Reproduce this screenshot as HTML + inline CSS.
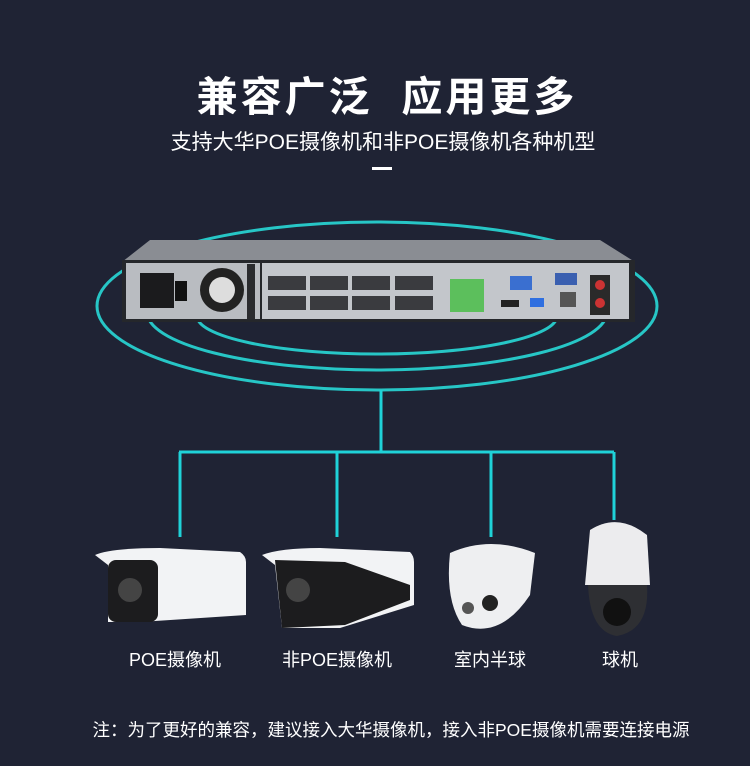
<!DOCTYPE html>
<html><head><meta charset="utf-8"><style>
html,body{margin:0;padding:0}
body{width:750px;height:766px;background:#1f2334;position:relative;overflow:hidden;font-family:"Liberation Sans","Noto Sans CJK SC",sans-serif;color:#fff}
.t{position:absolute;left:0;width:750px;text-align:center;white-space:nowrap}
</style></head><body>
<div class="t" style="top:63px;left:12px;font-size:41px;font-weight:bold;letter-spacing:3px">兼容广泛&nbsp;&nbsp;应用更多</div>
<div class="t" style="top:126px;left:8px;font-size:21px">支持大华POE摄像机和非POE摄像机各种机型</div>
<div style="position:absolute;left:372px;top:167px;width:20px;height:3px;background:#fff"></div>
<svg width="750" height="766" style="position:absolute;left:0;top:0">
<g fill="none" stroke="#27c6c6" stroke-width="3">
<ellipse cx="377" cy="306" rx="280" ry="84"/>
<ellipse cx="377" cy="312" rx="230" ry="58"/>
<ellipse cx="377" cy="316" rx="180" ry="38"/>
</g>
<g stroke="#1fd2d8" stroke-width="3" fill="none">
<line x1="381" y1="390" x2="381" y2="452"/>
<line x1="179" y1="452" x2="614" y2="452"/>
<line x1="180" y1="452" x2="180" y2="537"/>
<line x1="337" y1="452" x2="337" y2="537"/>
<line x1="491" y1="452" x2="491" y2="537"/>
<line x1="614" y1="452" x2="614" y2="520"/>
</g>
<polygon points="150,240 600,240 635,262 122,262" fill="#8a8d93"/>
<rect x="122" y="260" width="513" height="62" fill="#25272b"/>
<rect x="126" y="263" width="134" height="56" fill="#b9bcc1"/>
<rect x="262" y="263" width="367" height="56" fill="#c3c6cb"/>
<rect x="140" y="273" width="34" height="35" fill="#1b1b1d"/>
<rect x="175" y="281" width="12" height="20" fill="#111"/>
<circle cx="222" cy="290" r="22" fill="#222"/>
<circle cx="222" cy="290" r="13" fill="#ddd"/>
<rect x="247" y="264" width="8" height="55" fill="#2a2b2e"/>
<g fill="#3a3b3f">
<rect x="268" y="276" width="38" height="14"/><rect x="268" y="296" width="38" height="14"/>
<rect x="310" y="276" width="38" height="14"/><rect x="310" y="296" width="38" height="14"/>
<rect x="352" y="276" width="38" height="14"/><rect x="352" y="296" width="38" height="14"/>
<rect x="395" y="276" width="38" height="14"/><rect x="395" y="296" width="38" height="14"/>
</g>
<rect x="450" y="279" width="34" height="33" fill="#5cbf5c"/>
<rect x="510" y="276" width="22" height="14" fill="#3a6fd0"/>
<rect x="555" y="273" width="22" height="12" fill="#3a5fb0"/>
<rect x="501" y="300" width="18" height="7" fill="#222"/>
<rect x="530" y="298" width="14" height="9" fill="#2f6fe0"/>
<rect x="560" y="292" width="16" height="15" fill="#555"/>
<rect x="590" y="275" width="20" height="40" fill="#2a2a2a"/>
<circle cx="600" cy="285" r="5" fill="#c33"/><circle cx="600" cy="303" r="5" fill="#c33"/>
<path d="M95,555 Q110,548 160,548 L240,552 Q246,556 246,562 L246,615 L140,622 L108,622 L108,565 Z" fill="#f2f3f5"/>
<rect x="108" y="560" width="50" height="62" rx="8" fill="#1c1c1e"/>
<circle cx="130" cy="590" r="12" fill="#444"/>
<path d="M262,555 Q280,548 320,548 L410,552 Q414,556 414,562 L414,605 L340,628 L282,628 L275,565 Z" fill="#f2f3f5"/>
<path d="M275,560 L345,562 L410,585 L410,600 L345,625 L282,628 Z" fill="#1c1c1e"/>
<circle cx="298" cy="590" r="12" fill="#444"/>
<path d="M450,553 Q490,535 535,553 L530,595 Q500,640 462,625 Q445,600 450,553 Z" fill="#eeeff1"/>
<circle cx="468" cy="608" r="6" fill="#555"/><circle cx="490" cy="603" r="8" fill="#222"/>
<path d="M590,530 Q618,512 647,535 L650,585 L585,585 Z" fill="#ececee"/>
<path d="M588,585 L647,585 Q650,630 617,636 Q590,632 588,585 Z" fill="#2e2f33"/>
<circle cx="617" cy="612" r="14" fill="#111"/>
</svg>
<div class="t" style="left:100px;width:150px;top:646px;font-size:18px">POE摄像机</div>
<div class="t" style="left:262px;width:150px;top:646px;font-size:18px">非POE摄像机</div>
<div class="t" style="left:415px;width:150px;top:646px;font-size:18px">室内半球</div>
<div class="t" style="left:545px;width:150px;top:646px;font-size:18px">球机</div>
<div class="t" style="top:717px;left:16px;font-size:17.5px">注：为了更好的兼容，建议接入大华摄像机，接入非POE摄像机需要连接电源</div>
</body></html>
